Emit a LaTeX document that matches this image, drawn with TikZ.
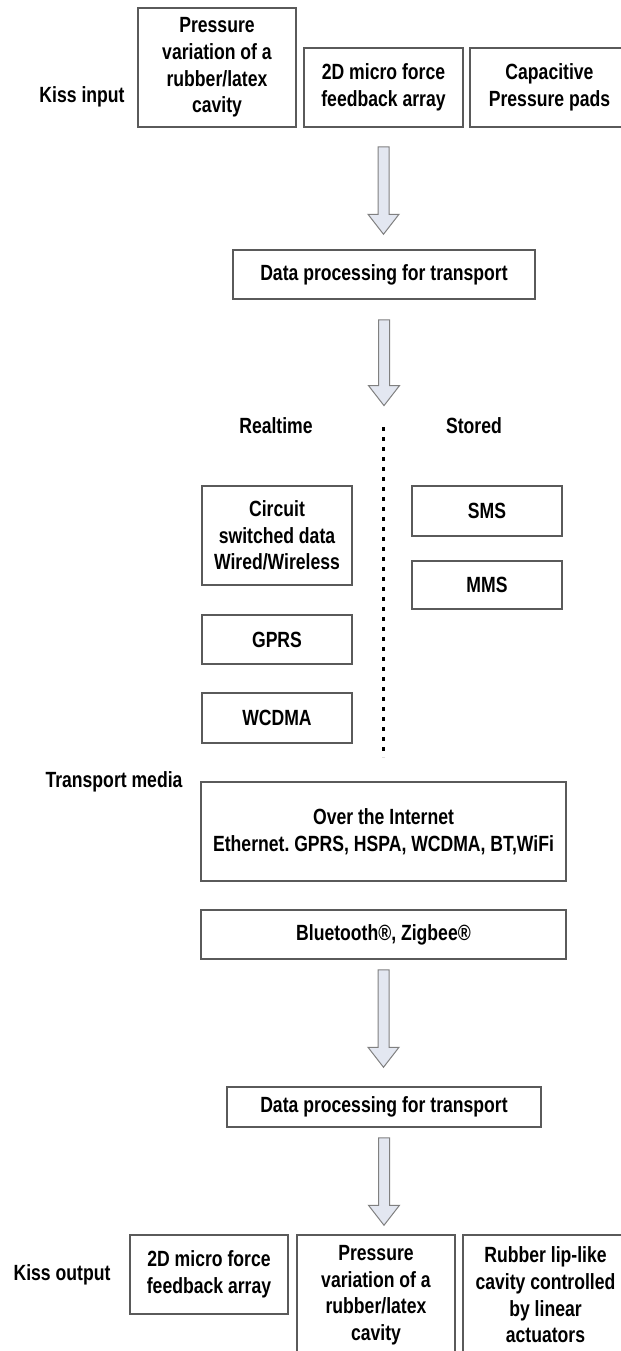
\documentclass[tikz,border=0pt]{standalone}
\usepackage{fontspec}
\setmainfont{Liberation Sans}[FakeStretch=0.8]
\usetikzlibrary{calc}
\frenchspacing
\definecolor{boxline}{HTML}{5A5A5A}
\definecolor{arrowfill}{HTML}{E3E7F1}
\definecolor{arrowline}{HTML}{808080}
\tikzset{
  txt/.style={font=\bfseries\fontsize{11}{13.3}\selectfont, align=center, inner sep=0pt},
  block/.style={txt, draw=boxline, line width=0.75pt},
  sz/.style 2 args={minimum width=#1*0.5pt, minimum height=#2*0.5pt},
  blockarrow/.style={draw=arrowline, fill=arrowfill, line width=0.5pt, line join=miter},
  dotline/.style={draw=black, line width=1.5pt, dash pattern=on 1.8pt off 3.2pt}
}
% seta larga: origem, destino, folga em cima, folga em baixo
\newcommand{\fatarrow}[4]{%
  \draw[blockarrow] let \p1=($(#1.south)+(0,#3)$), \p2=($(#1.south |- #2.north)+(0,-#4)$) in
    (\x1-2.75pt,\y1) -- (\x1+2.75pt,\y1) -- (\x1+2.75pt,\y2+10pt) -- (\x1+7.75pt,\y2+10pt)
    -- (\x1,\y2) -- (\x1-7.75pt,\y2+10pt) -- (\x1-2.75pt,\y2+10pt) -- cycle;}
\begin{document}
\begin{tikzpicture}[x=0.5pt, y=-0.5pt]
    \useasboundingbox (0,0) rectangle (621,1351);
    % Caixas: nome/x/y/largura/altura/texto
    \foreach \nm/\cx/\cy/\w/\h/\txt in {
        in1/217/67.5/158/119/{Pressure\\variation of a\\rubber/latex\\cavity},
        in2/383.5/87.5/159/79/{2D micro force\\feedback array},
        in3/549.5/87.5/159/79/{Capacitive\\Pressure pads},
        dp1/384/274.5/302/49/{Data processing for transport},
        circ/277/535.5/150/99/{Circuit\\switched data\\Wired/Wireless},
        sms/487/511/150/50/{SMS},
        mms/487/585/150/48/{MMS},
        gprs/277/639.5/150/49/{GPRS},
        wcdma/277/718/150/50/{WCDMA},
        inet/383.5/831.5/365/99/{Over the Internet\\Ethernet. GPRS, HSPA, WCDMA, BT,WiFi},
        bt/383.5/934.5/365/49/{Bluetooth®, Zigbee®},
        dp2/384/1107/314/40/{Data processing for transport},
        out1/209/1274.5/158/79/{2D micro force\\feedback array},
        out2/376/1295/158/120/{Pressure\\variation of a\\rubber/latex\\cavity},
        out3/545.5/1295/165/120/{Rubber lip-like\\cavity controlled\\by linear\\actuators}} {
        \node[block, sz={\w}{\h}] (\nm) at (\cx,\cy) {\txt};
    }
    % Rotulos soltos
    \node[txt] (kissin) at (82,97) {Kiss input};
    \node[txt] (realtime) at (276,426) {Realtime};
    \node[txt] (stored) at (474,426) {Stored};
    \node[txt] (tmedia) at (114,782) {Transport media};
    \node[txt] (kissout) at (62,1275) {Kiss output};
    % Linha pontilhada entre Realtime e Stored
    \node[inner sep=0pt] (rtop) at (383,427) {};
    \coordinate (rbot) at (383,757);
    \draw[dotline] (rtop.center) -- (rbot);
    % Setas largas
    \foreach \a/\b/\g/\h in {in2/dp1/19/15, dp1/rtop/20/20, bt/dp2/10/19, dp2/out2/10/9} {
        \fatarrow{\a}{\b}{\g}{\h}
    }
\end{tikzpicture}
\end{document}
